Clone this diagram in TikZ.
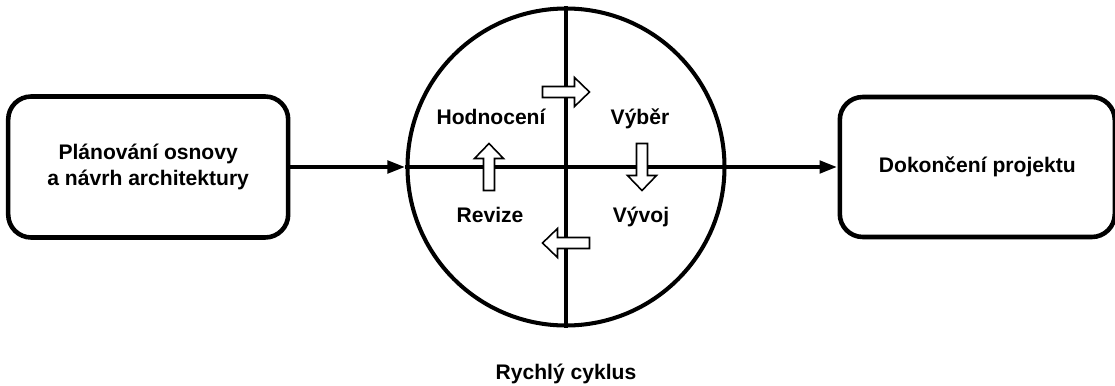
\documentclass[tikz,border=0pt]{standalone}
\usepackage{fontspec}
\setmainfont{Liberation Sans}
\usetikzlibrary{arrows.meta,positioning}

\begin{document}
\begin{tikzpicture}[
    font=\fontsize{12}{14.8}\selectfont\bfseries,
    box/.style={draw, line width=2.6pt, rounded corners=0.46cm, minimum width=5.6cm, minimum height=2.82cm, align=center},
    arr/.style={-{Triangle[length=0.36cm,width=0.24cm]}, line width=2.6pt},
    split/.style={line width=2.6pt},
    lbl/.style={anchor=base},
    cycarrow/.pic={\draw[line width=0.9pt, fill=white] (-0.47,-0.11) -- (0.17,-0.11) -- (0.17,-0.29) -- (0.47,0) -- (0.17,0.29) -- (0.17,0.11) -- (-0.47,0.11) -- cycle;}
  ]
    \useasboundingbox (0,0) rectangle (22.3,7.7);
    \node[draw, circle, line width=2.3pt, minimum size=6.34cm] (cyc) at (11.32,4.36) {};
    \node[box, left=2.3cm of cyc] (plan) {Plánování osnovy\\a návrh architektury};
    \node[box, minimum width=5.5cm, minimum height=2.8cm, right=2.22cm of cyc] (done) {Dokončení projektu};
    \draw[arr] (plan) -- (cyc);
    \draw[split] (cyc.west) -- (cyc.east);
    \draw[split] (cyc.north) -- (cyc.south);
    \draw[arr] (cyc) -- (done);
    \path (cyc.center) ++(0,1.5) pic {cycarrow};
    \path (cyc.center) ++(1.52,0) pic[rotate=-90] {cycarrow};
    \path (cyc.center) ++(0,-1.52) pic[rotate=180] {cycarrow};
    \path (cyc.center) ++(-1.54,0) pic[rotate=90] {cycarrow};
    \path (cyc.center) ++(-1.5,0.86) node[lbl] (hod) {Hodnocení};
    \path (cyc.center) ++(1.48,0.86) node[lbl] (vyb) {Výběr};
    \path (cyc.center) ++(-1.52,-1.11) node[lbl] (rev) {Revize};
    \path (cyc.center) ++(1.5,-1.11) node[lbl] (vyv) {Vývoj};
    \path (cyc.center) ++(0,-4.24) node[lbl] (title) {Rychlý cyklus};
  \end{tikzpicture}
\end{document}
